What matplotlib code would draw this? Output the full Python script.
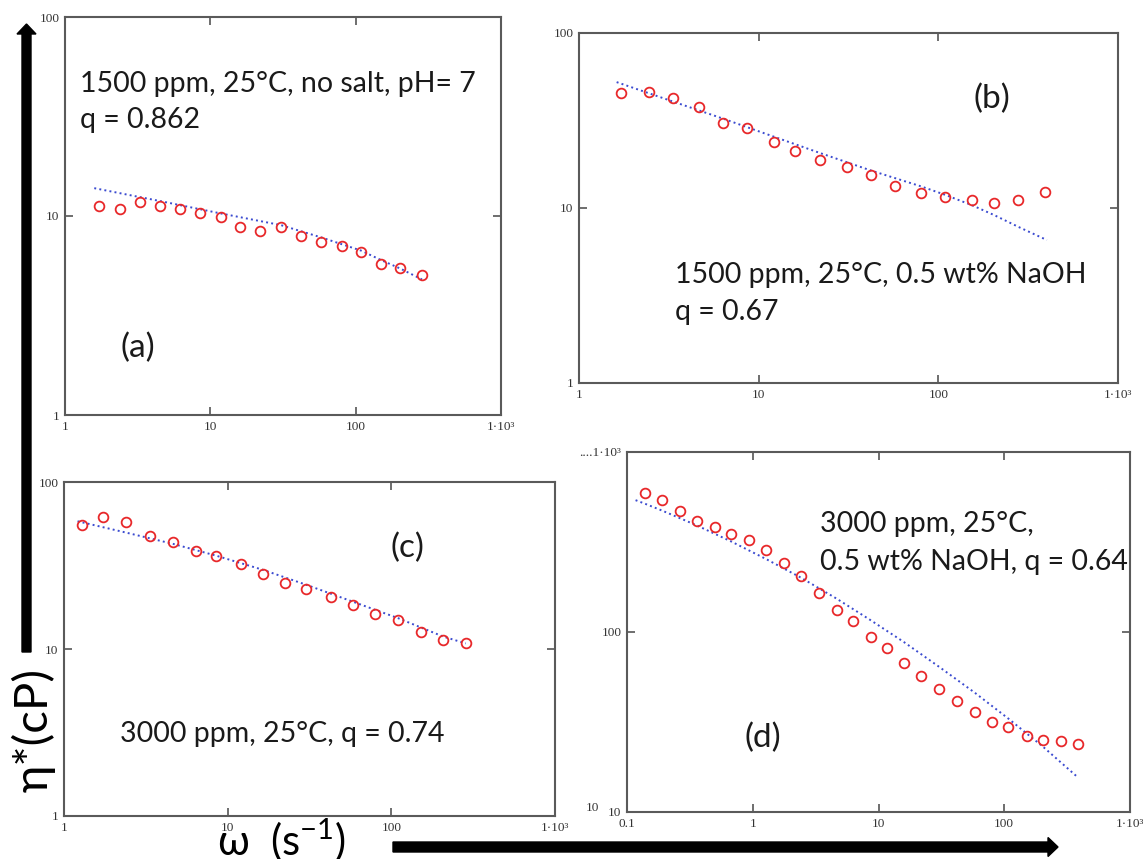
import matplotlib

matplotlib.use('Agg')
import matplotlib.pyplot as plt
from matplotlib.patches import FancyArrow

W, H = 1143, 859

# (a) 1500 ppm, no salt
w_a = [1.72, 2.38, 3.28, 4.48, 6.18, 8.49, 11.8, 16.1, 22.1, 30.6, 42.1, 58.1, 81.1, 109, 150, 202, 286]
eta_a = [11.2, 10.8, 11.7, 11.2, 10.8, 10.3, 9.87, 8.79, 8.43, 8.79, 7.92, 7.36, 7.08, 6.56, 5.73, 5.47, 5.08]
fit_w_a = [1.59, 4.48, 11.8, 30.6, 58.1, 109, 150, 202, 286]
fit_eta_a = [13.8, 11.9, 10.3, 9.0, 7.8, 6.7, 6.0, 5.45, 4.8]

# (b) 1500 ppm, 0.5 wt% NaOH
w_b = [1.71, 2.45, 3.33, 4.63, 6.34, 8.61, 12.1, 16.0, 22.0, 31.0, 42.0, 57.3, 80.0, 109, 153, 205, 279, 391]
eta_b = [45.5, 46.2, 42.5, 37.9, 30.4, 28.7, 23.9, 21.2, 18.7, 17.1, 15.5, 13.4, 12.2, 11.6, 11.1, 10.7, 11.1, 12.3]
fit_w_b = [1.62, 3.33, 6.34, 12.1, 22.0, 42.0, 80, 109, 153, 205, 279, 402]
fit_eta_b = [52.4, 40.6, 32.4, 25.6, 20.6, 16.4, 13.3, 11.9, 10.4, 9.1, 7.8, 6.56]

# (c) 3000 ppm
w_c = [1.28, 1.74, 2.39, 3.33, 4.64, 6.37, 8.52, 12.0, 16.4, 22.3, 30.0, 42.6, 58.2, 79.8, 110, 151, 206, 285]
eta_c = [55.4, 62.1, 57.7, 47.3, 43.7, 38.6, 36.0, 32.1, 28.1, 25.0, 22.9, 20.5, 18.3, 16.3, 14.9, 12.7, 11.3, 10.8]
fit_w_c = [1.21, 2.39, 4.64, 8.52, 16.4, 30.0, 58.2, 110, 206, 285]
fit_eta_c = [58.2, 49.8, 42.6, 36.2, 29.8, 24.3, 19.2, 15.3, 11.9, 10.8]

# (d) 3000 ppm, 0.5 wt% NaOH
w_d = [0.139, 0.191, 0.263, 0.359, 0.497, 0.676, 0.942, 1.28, 1.76, 2.43, 3.34, 4.66, 6.28,
       8.71, 11.7, 15.9, 21.9, 30.4, 42.1, 58.3, 79.2, 108, 152, 204, 282, 384]
eta_d = [590, 540, 469, 413, 382, 349, 326, 287, 243, 206, 165, 133, 115,
         94.2, 81.8, 67.0, 57.2, 48.1, 41.4, 35.9, 31.8, 29.7, 26.6, 25.0, 24.7, 23.9]
fit_w_d = [0.117, 0.139, 0.191, 0.359, 0.676, 1.28, 2.43, 4.66, 8.71, 15.9, 30.4, 58.3, 108, 204, 384]
fit_eta_d = [540, 516, 472, 391, 318, 254, 200, 153, 116, 88, 64, 46, 33, 23, 15.6]

x_ticks = [1, 10, 100, 1000]
x_labels = ["1", "10", "100", "1·10³"]
x_ticks_d = [0.1, 1, 10, 100, 1000]
x_labels_d = ["0.1", "1", "10", "100", "1·10³"]
y_ticks = [1, 10, 100]
y_labels = ["1", "10", "100"]
y_ticks_d = [10, 100, 1000]
y_labels_d = ["10", "100", "....1·10³"]

ANN = {'family': ['Lato', 'DejaVu Sans'], 'size': 20.5, 'color': '#1a1a1a'}
TAG = {'family': ['Lato', 'DejaVu Sans'], 'size': 24, 'color': '#1a1a1a'}


def box(l, t, r, b):
    return [l / W, 1 - b / H, (r - l) / W, (b - t) / H]


def panel(fig, rect, xlim, ylim, xt, xl, yt, yl, w, eta, fw, feta):
    ax = fig.add_axes(rect)
    ax.set_xscale('log')
    ax.set_yscale('log')
    ax.plot(fw, feta, ls=':', color='#3b4bd0', lw=1.4)
    ax.plot(w, eta, 'o', mfc='none', mec='#e8282a', ms=7, mew=1.3)
    ax.set_xlim(xlim)
    ax.set_ylim(ylim)
    ax.set_xticks(xt)
    ax.set_xticklabels(xl)
    ax.set_yticks(yt)
    ax.set_yticklabels(yl)
    ax.minorticks_off()
    ax.tick_params(direction='in', top=True, right=True, length=6, width=1.2,
                   color='#555555', labelsize=9.5, labelcolor='#333333', pad=4)
    for s in ax.spines.values():
        s.set_color('#5a5a5a')
        s.set_linewidth(1.5)
    for lab in ax.get_xticklabels() + ax.get_yticklabels():
        lab.set_family('Liberation Serif')
    return ax


fig = plt.figure(figsize=(W / 100, H / 100), dpi=100)

panel(fig, box(65, 17, 501, 415), (1, 1000), (1, 100), x_ticks, x_labels, y_ticks, y_labels,
      w_a, eta_a, fit_w_a, fit_eta_a)
panel(fig, box(579, 33, 1118, 383), (1, 1000), (1, 100), x_ticks, x_labels, y_ticks, y_labels,
      w_b, eta_b, fit_w_b, fit_eta_b)
panel(fig, box(64, 482, 555, 816), (1, 1000), (1, 100), x_ticks, x_labels, y_ticks, y_labels,
      w_c, eta_c, fit_w_c, fit_eta_c)
panel(fig, box(627, 452, 1130, 812), (0.1, 1000), (10, 1000), x_ticks_d, x_labels_d, y_ticks_d, y_labels_d,
      w_d, eta_d, fit_w_d, fit_eta_d)

# overlay in pixel coordinates for annotations and the big arrows
over = fig.add_axes([0, 0, 1, 1], zorder=10)
over.set_xlim(0, W)
over.set_ylim(H, 0)
over.axis('off')

over.text(80, 92, "1500 ppm, 25°C, no salt, pH= 7", va='baseline', **ANN)
over.text(80, 128, "q = 0.862", va='baseline', **ANN)
over.text(138, 348, "(a)", ha='center', va='center', **TAG)

over.text(992, 99, "(b)", ha='center', va='center', **TAG)
over.text(675, 283, "1500 ppm, 25°C, 0.5 wt% NaOH", va='baseline', **ANN)
over.text(675, 320, "q = 0.67", va='baseline', **ANN)

over.text(407, 548, "(c)", ha='center', va='center', **TAG)
over.text(120, 742, "3000 ppm, 25°C, q = 0.74", va='baseline', **ANN)

over.text(820, 532, "3000 ppm, 25°C,", va='baseline', **ANN)
over.text(820, 570, "0.5 wt% NaOH, q = 0.64", va='baseline', **ANN)
over.text(763, 738, "(d)", ha='center', va='center', **TAG)

over.text(592, 808, "10", ha='center', va='center', family='Liberation Serif', size=9.5, color='#333333')

over.text(34, 730, "η*(cP)", rotation=90, ha='center', va='center',
          family=['Lato', 'DejaVu Sans'], size=34, color='black')
over.text(217, 856, "ω  (s$^{\\mathregular{-1}}$)", ha='left', va='baseline',
          family=['Lato', 'DejaVu Sans'], size=30, color='black')

over.add_patch(FancyArrow(26.5, 652, 0, -628, width=9, head_width=19, head_length=10,
                          length_includes_head=True, color='black'))
over.add_patch(FancyArrow(393, 847, 665, 0, width=10, head_width=19, head_length=10,
                          length_includes_head=True, color='black'))

fig.savefig('out.png', dpi=100)
